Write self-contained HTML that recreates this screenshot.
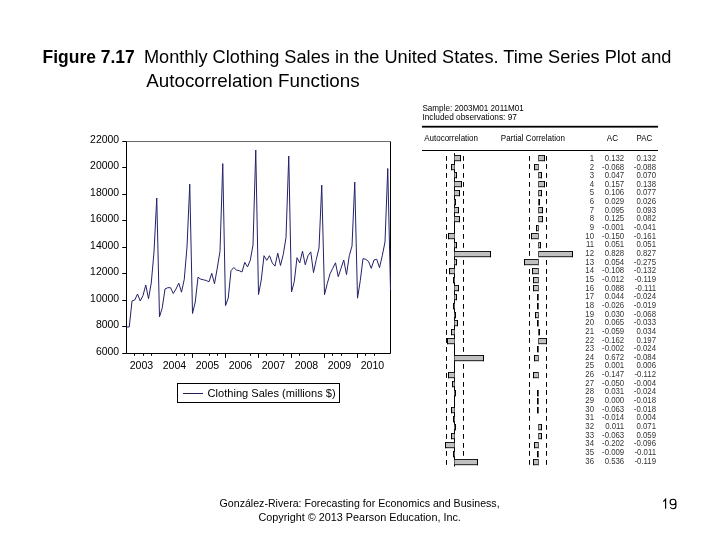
<!DOCTYPE html>
<html><head><meta charset="utf-8"><title>Figure 7.17</title>
<style>
html,body{margin:0;padding:0;background:#fff;}
body{width:720px;height:540px;overflow:hidden;}
svg{display:block;will-change:transform;font-family:"Liberation Sans", sans-serif;}
</style></head>
<body>
<svg width="720" height="540" viewBox="0 0 720 540">
<rect width="720" height="540" fill="#fff"/>
<text x="42.6" y="62.5" font-size="18.2" text-anchor="start" fill="#000" font-weight="bold" textLength="92.2" lengthAdjust="spacingAndGlyphs">Figure 7.17</text>
<text x="143.9" y="62.5" font-size="18.2" text-anchor="start" fill="#000" textLength="527.5" lengthAdjust="spacingAndGlyphs">Monthly Clothing Sales in the United States. Time Series Plot and</text>
<text x="146.2" y="86.6" font-size="18.2" text-anchor="start" fill="#000" textLength="213.5" lengthAdjust="spacingAndGlyphs">Autocorrelation Functions</text>
<path d="M126.5 141 V353.5 H390.5 V141" fill="none" stroke="#000" stroke-width="1"/>
<line x1="126" y1="141.5" x2="391" y2="141.5" stroke="#6a6a6a" stroke-width="1"/>
<line x1="122.3" y1="141.5" x2="126.5" y2="141.5" stroke="#000" stroke-width="1"/>
<text x="119.1" y="142.8" font-size="10.6" text-anchor="end" fill="#000" textLength="29.0" lengthAdjust="spacingAndGlyphs">22000</text>
<line x1="122.3" y1="167.5" x2="126.5" y2="167.5" stroke="#000" stroke-width="1"/>
<text x="119.1" y="169.3" font-size="10.6" text-anchor="end" fill="#000" textLength="29.0" lengthAdjust="spacingAndGlyphs">20000</text>
<line x1="122.3" y1="194.5" x2="126.5" y2="194.5" stroke="#000" stroke-width="1"/>
<text x="119.1" y="195.8" font-size="10.6" text-anchor="end" fill="#000" textLength="29.0" lengthAdjust="spacingAndGlyphs">18000</text>
<line x1="122.3" y1="220.5" x2="126.5" y2="220.5" stroke="#000" stroke-width="1"/>
<text x="119.1" y="222.3" font-size="10.6" text-anchor="end" fill="#000" textLength="29.0" lengthAdjust="spacingAndGlyphs">16000</text>
<line x1="122.3" y1="247.5" x2="126.5" y2="247.5" stroke="#000" stroke-width="1"/>
<text x="119.1" y="248.8" font-size="10.6" text-anchor="end" fill="#000" textLength="29.0" lengthAdjust="spacingAndGlyphs">14000</text>
<line x1="122.3" y1="273.5" x2="126.5" y2="273.5" stroke="#000" stroke-width="1"/>
<text x="119.1" y="275.3" font-size="10.6" text-anchor="end" fill="#000" textLength="29.0" lengthAdjust="spacingAndGlyphs">12000</text>
<line x1="122.3" y1="300.5" x2="126.5" y2="300.5" stroke="#000" stroke-width="1"/>
<text x="119.1" y="301.8" font-size="10.6" text-anchor="end" fill="#000" textLength="29.0" lengthAdjust="spacingAndGlyphs">10000</text>
<line x1="122.3" y1="326.5" x2="126.5" y2="326.5" stroke="#000" stroke-width="1"/>
<text x="119.1" y="328.3" font-size="10.6" text-anchor="end" fill="#000" textLength="23.2" lengthAdjust="spacingAndGlyphs">8000</text>
<line x1="122.3" y1="353.5" x2="126.5" y2="353.5" stroke="#000" stroke-width="1"/>
<text x="119.1" y="354.8" font-size="10.6" text-anchor="end" fill="#000" textLength="23.2" lengthAdjust="spacingAndGlyphs">6000</text>
<line x1="134.50" y1="353.5" x2="134.50" y2="355.8" stroke="#000" stroke-width="1"/>
<line x1="143.50" y1="353.5" x2="143.50" y2="355.8" stroke="#000" stroke-width="1"/>
<line x1="151.50" y1="353.5" x2="151.50" y2="355.8" stroke="#000" stroke-width="1"/>
<line x1="176.50" y1="353.5" x2="176.50" y2="355.8" stroke="#000" stroke-width="1"/>
<line x1="184.50" y1="353.5" x2="184.50" y2="355.8" stroke="#000" stroke-width="1"/>
<line x1="192.50" y1="353.5" x2="192.50" y2="357.8" stroke="#000" stroke-width="1"/>
<line x1="209.50" y1="353.5" x2="209.50" y2="355.8" stroke="#000" stroke-width="1"/>
<line x1="217.50" y1="353.5" x2="217.50" y2="355.8" stroke="#000" stroke-width="1"/>
<line x1="225.50" y1="353.5" x2="225.50" y2="357.8" stroke="#000" stroke-width="1"/>
<line x1="250.50" y1="353.5" x2="250.50" y2="355.8" stroke="#000" stroke-width="1"/>
<line x1="258.50" y1="353.5" x2="258.50" y2="357.8" stroke="#000" stroke-width="1"/>
<line x1="266.50" y1="353.5" x2="266.50" y2="355.8" stroke="#000" stroke-width="1"/>
<line x1="283.50" y1="353.5" x2="283.50" y2="355.8" stroke="#000" stroke-width="1"/>
<line x1="291.50" y1="353.5" x2="291.50" y2="357.8" stroke="#000" stroke-width="1"/>
<line x1="299.50" y1="353.5" x2="299.50" y2="355.8" stroke="#000" stroke-width="1"/>
<line x1="324.50" y1="353.5" x2="324.50" y2="357.8" stroke="#000" stroke-width="1"/>
<line x1="332.50" y1="353.5" x2="332.50" y2="355.8" stroke="#000" stroke-width="1"/>
<line x1="341.50" y1="353.5" x2="341.50" y2="355.8" stroke="#000" stroke-width="1"/>
<line x1="357.50" y1="353.5" x2="357.50" y2="357.8" stroke="#000" stroke-width="1"/>
<line x1="365.50" y1="353.5" x2="365.50" y2="355.8" stroke="#000" stroke-width="1"/>
<line x1="374.50" y1="353.5" x2="374.50" y2="355.8" stroke="#000" stroke-width="1"/>
<text x="141.5" y="368.8" font-size="10.6" text-anchor="middle" fill="#000" textLength="23.5" lengthAdjust="spacingAndGlyphs">2003</text>
<text x="174.5" y="368.8" font-size="10.6" text-anchor="middle" fill="#000" textLength="23.5" lengthAdjust="spacingAndGlyphs">2004</text>
<text x="207.5" y="368.8" font-size="10.6" text-anchor="middle" fill="#000" textLength="23.5" lengthAdjust="spacingAndGlyphs">2005</text>
<text x="240.5" y="368.8" font-size="10.6" text-anchor="middle" fill="#000" textLength="23.5" lengthAdjust="spacingAndGlyphs">2006</text>
<text x="273.5" y="368.8" font-size="10.6" text-anchor="middle" fill="#000" textLength="23.5" lengthAdjust="spacingAndGlyphs">2007</text>
<text x="306.5" y="368.8" font-size="10.6" text-anchor="middle" fill="#000" textLength="23.5" lengthAdjust="spacingAndGlyphs">2008</text>
<text x="339.5" y="368.8" font-size="10.6" text-anchor="middle" fill="#000" textLength="23.5" lengthAdjust="spacingAndGlyphs">2009</text>
<text x="372.5" y="368.8" font-size="10.6" text-anchor="middle" fill="#000" textLength="23.5" lengthAdjust="spacingAndGlyphs">2010</text>
<polyline points="126.50,327.0 129.25,327.0 132.00,301.0 134.75,300.0 137.50,294.0 140.25,301.0 143.00,295.5 145.75,285.0 148.50,298.7 151.25,283.0 154.00,252.0 156.75,198.0 159.50,316.9 162.25,307.8 165.00,289.0 167.75,287.7 170.50,287.7 173.25,293.5 176.00,289.0 178.75,283.1 181.50,292.2 184.25,279.3 187.00,247.0 189.75,184.2 192.50,313.5 195.25,302.0 198.00,277.2 200.75,279.2 203.50,279.8 206.25,280.5 209.00,281.8 211.75,273.3 214.50,283.7 217.25,268.1 220.00,251.3 222.75,163.6 225.50,305.7 228.25,298.0 231.00,270.7 233.75,267.5 236.50,270.1 239.25,270.7 242.00,272.0 244.75,262.3 247.50,266.9 250.25,260.4 253.00,245.0 255.75,150.0 258.50,294.6 261.25,280.0 264.00,255.7 266.75,260.3 269.50,255.7 272.25,262.9 275.00,266.1 277.75,253.1 280.50,265.5 283.25,254.4 286.00,237.6 288.75,156.0 291.50,292.0 294.25,281.7 297.00,257.7 299.75,262.9 302.50,251.2 305.25,264.8 308.00,255.7 310.75,251.9 313.50,272.6 316.25,259.6 319.00,248.0 321.75,185.1 324.50,294.7 327.25,283.6 330.00,273.9 332.75,268.3 335.50,262.8 338.25,276.7 341.00,268.3 343.75,260.0 346.50,274.6 349.25,255.8 352.00,246.1 354.75,182.1 357.50,298.2 360.25,280.8 363.00,258.6 365.75,259.3 368.50,261.4 371.25,268.3 374.00,260.0 376.75,259.3 379.50,267.6 382.25,255.8 385.00,241.9 387.75,168.5 390.50,290.0" fill="none" stroke="#23216a" stroke-width="1" stroke-linejoin="miter"/>
<rect x="177.5" y="383.5" width="162" height="19" fill="none" stroke="#000" stroke-width="1"/>
<line x1="183" y1="393.5" x2="203" y2="393.5" stroke="#201e58" stroke-width="1"/>
<text x="207.6" y="397" font-size="11.6" text-anchor="start" fill="#000" textLength="128" lengthAdjust="spacingAndGlyphs">Clothing Sales (millions $)</text>
<text x="422.4" y="110.8" font-size="8.5" text-anchor="start" fill="#000" textLength="101.5" lengthAdjust="spacingAndGlyphs">Sample: 2003M01 2011M01</text>
<text x="422.4" y="119.7" font-size="8.5" text-anchor="start" fill="#000" textLength="94.5" lengthAdjust="spacingAndGlyphs">Included observations: 97</text>
<rect x="422" y="125.8" width="236" height="1.8" fill="#000"/>
<text x="424.2" y="140.9" font-size="8.7" text-anchor="start" fill="#000" textLength="53.8" lengthAdjust="spacingAndGlyphs">Autocorrelation</text>
<text x="500.8" y="140.9" font-size="8.7" text-anchor="start" fill="#000" textLength="64.2" lengthAdjust="spacingAndGlyphs">Partial Correlation</text>
<text x="606.8" y="140.9" font-size="8.7" text-anchor="start" fill="#000" textLength="11.2" lengthAdjust="spacingAndGlyphs">AC</text>
<text x="636.6" y="140.9" font-size="8.7" text-anchor="start" fill="#000" textLength="15.6" lengthAdjust="spacingAndGlyphs">PAC</text>
<rect x="422" y="150" width="236" height="1" fill="#000"/>
<line x1="454.5" y1="153.2" x2="454.5" y2="466.5" stroke="#000" stroke-width="1"/>
<line x1="446.5" y1="156" x2="446.5" y2="160.8" stroke="#000" stroke-width="1"/>
<line x1="463.5" y1="156" x2="463.5" y2="160.8" stroke="#000" stroke-width="1"/>
<line x1="529.5" y1="156" x2="529.5" y2="160.8" stroke="#000" stroke-width="1"/>
<line x1="546.5" y1="156" x2="546.5" y2="160.8" stroke="#000" stroke-width="1"/>
<rect x="454.5" y="155.5" width="6.0" height="5.2" fill="#c0c0c0"/>
<path d="M454.0 155.5 H461.0 M454.0 160.7 H461.0" stroke="#1a1a1a" stroke-width="1"/>
<line x1="460.5" y1="155.0" x2="460.5" y2="161.2" stroke="#000" stroke-width="1"/>
<rect x="538.5" y="155.5" width="6.0" height="5.2" fill="#c0c0c0"/>
<path d="M538.0 155.5 H545.0 M538.0 160.7 H545.0" stroke="#1a1a1a" stroke-width="1"/>
<line x1="544.5" y1="155.0" x2="544.5" y2="161.2" stroke="#000" stroke-width="1"/>
<line x1="538.5" y1="155.0" x2="538.5" y2="161.2" stroke="#555" stroke-width="1"/>
<text transform="translate(594,160.8) scale(0.93,1)" font-size="8.4" text-anchor="end" fill="#333">1</text>
<text transform="translate(624.2,160.8) scale(0.93,1)" font-size="8.4" text-anchor="end" fill="#333">0.132</text>
<text transform="translate(656,160.8) scale(0.93,1)" font-size="8.4" text-anchor="end" fill="#333">0.132</text>
<line x1="446.5" y1="164" x2="446.5" y2="168.8" stroke="#000" stroke-width="1"/>
<line x1="463.5" y1="164" x2="463.5" y2="168.8" stroke="#000" stroke-width="1"/>
<line x1="529.5" y1="164" x2="529.5" y2="168.8" stroke="#000" stroke-width="1"/>
<line x1="546.5" y1="164" x2="546.5" y2="168.8" stroke="#000" stroke-width="1"/>
<rect x="451.5" y="164.5" width="3.0" height="5.2" fill="#c0c0c0"/>
<path d="M451.0 164.5 H455.0 M451.0 169.7 H455.0" stroke="#1a1a1a" stroke-width="1"/>
<line x1="451.5" y1="164.0" x2="451.5" y2="170.2" stroke="#000" stroke-width="1"/>
<rect x="534.5" y="164.5" width="4.0" height="5.2" fill="#c0c0c0"/>
<path d="M534.0 164.5 H539.0 M534.0 169.7 H539.0" stroke="#1a1a1a" stroke-width="1"/>
<line x1="534.5" y1="164.0" x2="534.5" y2="170.2" stroke="#000" stroke-width="1"/>
<line x1="538.5" y1="164.0" x2="538.5" y2="170.2" stroke="#555" stroke-width="1"/>
<text transform="translate(594,169.5) scale(0.93,1)" font-size="8.4" text-anchor="end" fill="#333">2</text>
<text transform="translate(624.2,169.5) scale(0.93,1)" font-size="8.4" text-anchor="end" fill="#333">-0.068</text>
<text transform="translate(656,169.5) scale(0.93,1)" font-size="8.4" text-anchor="end" fill="#333">-0.088</text>
<line x1="446.5" y1="173" x2="446.5" y2="177.8" stroke="#000" stroke-width="1"/>
<line x1="463.5" y1="173" x2="463.5" y2="177.8" stroke="#000" stroke-width="1"/>
<line x1="529.5" y1="173" x2="529.5" y2="177.8" stroke="#000" stroke-width="1"/>
<line x1="546.5" y1="173" x2="546.5" y2="177.8" stroke="#000" stroke-width="1"/>
<rect x="454.5" y="172.5" width="2.0" height="5.2" fill="#c0c0c0"/>
<path d="M454.0 172.5 H457.0 M454.0 177.7 H457.0" stroke="#1a1a1a" stroke-width="1"/>
<line x1="456.5" y1="172.0" x2="456.5" y2="178.2" stroke="#000" stroke-width="1"/>
<rect x="538.5" y="172.5" width="3.0" height="5.2" fill="#c0c0c0"/>
<path d="M538.0 172.5 H542.0 M538.0 177.7 H542.0" stroke="#1a1a1a" stroke-width="1"/>
<line x1="541.5" y1="172.0" x2="541.5" y2="178.2" stroke="#000" stroke-width="1"/>
<line x1="538.5" y1="172.0" x2="538.5" y2="178.2" stroke="#555" stroke-width="1"/>
<text transform="translate(594,178.1) scale(0.93,1)" font-size="8.4" text-anchor="end" fill="#333">3</text>
<text transform="translate(624.2,178.1) scale(0.93,1)" font-size="8.4" text-anchor="end" fill="#333">0.047</text>
<text transform="translate(656,178.1) scale(0.93,1)" font-size="8.4" text-anchor="end" fill="#333">0.070</text>
<line x1="446.5" y1="182" x2="446.5" y2="186.8" stroke="#000" stroke-width="1"/>
<line x1="463.5" y1="182" x2="463.5" y2="186.8" stroke="#000" stroke-width="1"/>
<line x1="529.5" y1="182" x2="529.5" y2="186.8" stroke="#000" stroke-width="1"/>
<line x1="546.5" y1="182" x2="546.5" y2="186.8" stroke="#000" stroke-width="1"/>
<rect x="454.5" y="181.5" width="7.0" height="5.2" fill="#c0c0c0"/>
<path d="M454.0 181.5 H462.0 M454.0 186.7 H462.0" stroke="#1a1a1a" stroke-width="1"/>
<line x1="461.5" y1="181.0" x2="461.5" y2="187.2" stroke="#000" stroke-width="1"/>
<rect x="538.5" y="181.5" width="6.0" height="5.2" fill="#c0c0c0"/>
<path d="M538.0 181.5 H545.0 M538.0 186.7 H545.0" stroke="#1a1a1a" stroke-width="1"/>
<line x1="544.5" y1="181.0" x2="544.5" y2="187.2" stroke="#000" stroke-width="1"/>
<line x1="538.5" y1="181.0" x2="538.5" y2="187.2" stroke="#555" stroke-width="1"/>
<text transform="translate(594,186.8) scale(0.93,1)" font-size="8.4" text-anchor="end" fill="#333">4</text>
<text transform="translate(624.2,186.8) scale(0.93,1)" font-size="8.4" text-anchor="end" fill="#333">0.157</text>
<text transform="translate(656,186.8) scale(0.93,1)" font-size="8.4" text-anchor="end" fill="#333">0.138</text>
<line x1="446.5" y1="191" x2="446.5" y2="195.8" stroke="#000" stroke-width="1"/>
<line x1="463.5" y1="191" x2="463.5" y2="195.8" stroke="#000" stroke-width="1"/>
<line x1="529.5" y1="191" x2="529.5" y2="195.8" stroke="#000" stroke-width="1"/>
<line x1="546.5" y1="191" x2="546.5" y2="195.8" stroke="#000" stroke-width="1"/>
<rect x="454.5" y="190.5" width="5.0" height="5.2" fill="#c0c0c0"/>
<path d="M454.0 190.5 H460.0 M454.0 195.7 H460.0" stroke="#1a1a1a" stroke-width="1"/>
<line x1="459.5" y1="190.0" x2="459.5" y2="196.2" stroke="#000" stroke-width="1"/>
<rect x="538.5" y="190.5" width="3.0" height="5.2" fill="#c0c0c0"/>
<path d="M538.0 190.5 H542.0 M538.0 195.7 H542.0" stroke="#1a1a1a" stroke-width="1"/>
<line x1="541.5" y1="190.0" x2="541.5" y2="196.2" stroke="#000" stroke-width="1"/>
<line x1="538.5" y1="190.0" x2="538.5" y2="196.2" stroke="#555" stroke-width="1"/>
<text transform="translate(594,195.4) scale(0.93,1)" font-size="8.4" text-anchor="end" fill="#333">5</text>
<text transform="translate(624.2,195.4) scale(0.93,1)" font-size="8.4" text-anchor="end" fill="#333">0.106</text>
<text transform="translate(656,195.4) scale(0.93,1)" font-size="8.4" text-anchor="end" fill="#333">0.077</text>
<line x1="446.5" y1="199" x2="446.5" y2="203.8" stroke="#000" stroke-width="1"/>
<line x1="463.5" y1="199" x2="463.5" y2="203.8" stroke="#000" stroke-width="1"/>
<line x1="529.5" y1="199" x2="529.5" y2="203.8" stroke="#000" stroke-width="1"/>
<line x1="546.5" y1="199" x2="546.5" y2="203.8" stroke="#000" stroke-width="1"/>
<rect x="454.5" y="199.5" width="1.0" height="5.2" fill="#c0c0c0"/>
<path d="M454.0 199.5 H456.0 M454.0 204.7 H456.0" stroke="#1a1a1a" stroke-width="1"/>
<line x1="455.5" y1="199.0" x2="455.5" y2="205.2" stroke="#000" stroke-width="1"/>
<rect x="538.5" y="199.5" width="1.0" height="5.2" fill="#c0c0c0"/>
<path d="M538.0 199.5 H540.0 M538.0 204.7 H540.0" stroke="#1a1a1a" stroke-width="1"/>
<line x1="539.5" y1="199.0" x2="539.5" y2="205.2" stroke="#000" stroke-width="1"/>
<line x1="538.5" y1="199.0" x2="538.5" y2="205.2" stroke="#555" stroke-width="1"/>
<text transform="translate(594,204.1) scale(0.93,1)" font-size="8.4" text-anchor="end" fill="#333">6</text>
<text transform="translate(624.2,204.1) scale(0.93,1)" font-size="8.4" text-anchor="end" fill="#333">0.029</text>
<text transform="translate(656,204.1) scale(0.93,1)" font-size="8.4" text-anchor="end" fill="#333">0.026</text>
<line x1="446.5" y1="208" x2="446.5" y2="212.8" stroke="#000" stroke-width="1"/>
<line x1="463.5" y1="208" x2="463.5" y2="212.8" stroke="#000" stroke-width="1"/>
<line x1="529.5" y1="208" x2="529.5" y2="212.8" stroke="#000" stroke-width="1"/>
<line x1="546.5" y1="208" x2="546.5" y2="212.8" stroke="#000" stroke-width="1"/>
<rect x="454.5" y="207.5" width="4.0" height="5.2" fill="#c0c0c0"/>
<path d="M454.0 207.5 H459.0 M454.0 212.7 H459.0" stroke="#1a1a1a" stroke-width="1"/>
<line x1="458.5" y1="207.0" x2="458.5" y2="213.2" stroke="#000" stroke-width="1"/>
<rect x="538.5" y="207.5" width="4.0" height="5.2" fill="#c0c0c0"/>
<path d="M538.0 207.5 H543.0 M538.0 212.7 H543.0" stroke="#1a1a1a" stroke-width="1"/>
<line x1="542.5" y1="207.0" x2="542.5" y2="213.2" stroke="#000" stroke-width="1"/>
<line x1="538.5" y1="207.0" x2="538.5" y2="213.2" stroke="#555" stroke-width="1"/>
<text transform="translate(594,212.7) scale(0.93,1)" font-size="8.4" text-anchor="end" fill="#333">7</text>
<text transform="translate(624.2,212.7) scale(0.93,1)" font-size="8.4" text-anchor="end" fill="#333">0.095</text>
<text transform="translate(656,212.7) scale(0.93,1)" font-size="8.4" text-anchor="end" fill="#333">0.093</text>
<line x1="446.5" y1="217" x2="446.5" y2="221.8" stroke="#000" stroke-width="1"/>
<line x1="463.5" y1="217" x2="463.5" y2="221.8" stroke="#000" stroke-width="1"/>
<line x1="529.5" y1="217" x2="529.5" y2="221.8" stroke="#000" stroke-width="1"/>
<line x1="546.5" y1="217" x2="546.5" y2="221.8" stroke="#000" stroke-width="1"/>
<rect x="454.5" y="216.5" width="5.0" height="5.2" fill="#c0c0c0"/>
<path d="M454.0 216.5 H460.0 M454.0 221.7 H460.0" stroke="#1a1a1a" stroke-width="1"/>
<line x1="459.5" y1="216.0" x2="459.5" y2="222.2" stroke="#000" stroke-width="1"/>
<rect x="538.5" y="216.5" width="4.0" height="5.2" fill="#c0c0c0"/>
<path d="M538.0 216.5 H543.0 M538.0 221.7 H543.0" stroke="#1a1a1a" stroke-width="1"/>
<line x1="542.5" y1="216.0" x2="542.5" y2="222.2" stroke="#000" stroke-width="1"/>
<line x1="538.5" y1="216.0" x2="538.5" y2="222.2" stroke="#555" stroke-width="1"/>
<text transform="translate(594,221.4) scale(0.93,1)" font-size="8.4" text-anchor="end" fill="#333">8</text>
<text transform="translate(624.2,221.4) scale(0.93,1)" font-size="8.4" text-anchor="end" fill="#333">0.125</text>
<text transform="translate(656,221.4) scale(0.93,1)" font-size="8.4" text-anchor="end" fill="#333">0.082</text>
<line x1="446.5" y1="225" x2="446.5" y2="229.8" stroke="#000" stroke-width="1"/>
<line x1="463.5" y1="225" x2="463.5" y2="229.8" stroke="#000" stroke-width="1"/>
<line x1="529.5" y1="225" x2="529.5" y2="229.8" stroke="#000" stroke-width="1"/>
<line x1="546.5" y1="225" x2="546.5" y2="229.8" stroke="#000" stroke-width="1"/>
<rect x="536.5" y="225.5" width="2.0" height="5.2" fill="#c0c0c0"/>
<path d="M536.0 225.5 H539.0 M536.0 230.7 H539.0" stroke="#1a1a1a" stroke-width="1"/>
<line x1="536.5" y1="225.0" x2="536.5" y2="231.2" stroke="#000" stroke-width="1"/>
<line x1="538.5" y1="225.0" x2="538.5" y2="231.2" stroke="#555" stroke-width="1"/>
<text transform="translate(594,230.0) scale(0.93,1)" font-size="8.4" text-anchor="end" fill="#333">9</text>
<text transform="translate(624.2,230.0) scale(0.93,1)" font-size="8.4" text-anchor="end" fill="#333">-0.001</text>
<text transform="translate(656,230.0) scale(0.93,1)" font-size="8.4" text-anchor="end" fill="#333">-0.041</text>
<line x1="446.5" y1="234" x2="446.5" y2="238.8" stroke="#000" stroke-width="1"/>
<line x1="463.5" y1="234" x2="463.5" y2="238.8" stroke="#000" stroke-width="1"/>
<line x1="529.5" y1="234" x2="529.5" y2="238.8" stroke="#000" stroke-width="1"/>
<line x1="546.5" y1="234" x2="546.5" y2="238.8" stroke="#000" stroke-width="1"/>
<rect x="448.5" y="233.5" width="6.0" height="5.2" fill="#c0c0c0"/>
<path d="M448.0 233.5 H455.0 M448.0 238.7 H455.0" stroke="#1a1a1a" stroke-width="1"/>
<line x1="448.5" y1="233.0" x2="448.5" y2="239.2" stroke="#000" stroke-width="1"/>
<rect x="531.5" y="233.5" width="7.0" height="5.2" fill="#c0c0c0"/>
<path d="M531.0 233.5 H539.0 M531.0 238.7 H539.0" stroke="#1a1a1a" stroke-width="1"/>
<line x1="531.5" y1="233.0" x2="531.5" y2="239.2" stroke="#000" stroke-width="1"/>
<line x1="538.5" y1="233.0" x2="538.5" y2="239.2" stroke="#555" stroke-width="1"/>
<text transform="translate(594,238.7) scale(0.93,1)" font-size="8.4" text-anchor="end" fill="#333">10</text>
<text transform="translate(624.2,238.7) scale(0.93,1)" font-size="8.4" text-anchor="end" fill="#333">-0.150</text>
<text transform="translate(656,238.7) scale(0.93,1)" font-size="8.4" text-anchor="end" fill="#333">-0.161</text>
<line x1="446.5" y1="243" x2="446.5" y2="247.8" stroke="#000" stroke-width="1"/>
<line x1="463.5" y1="243" x2="463.5" y2="247.8" stroke="#000" stroke-width="1"/>
<line x1="529.5" y1="243" x2="529.5" y2="247.8" stroke="#000" stroke-width="1"/>
<line x1="546.5" y1="243" x2="546.5" y2="247.8" stroke="#000" stroke-width="1"/>
<rect x="454.5" y="242.5" width="2.0" height="5.2" fill="#c0c0c0"/>
<path d="M454.0 242.5 H457.0 M454.0 247.7 H457.0" stroke="#1a1a1a" stroke-width="1"/>
<line x1="456.5" y1="242.0" x2="456.5" y2="248.2" stroke="#000" stroke-width="1"/>
<rect x="538.5" y="242.5" width="2.0" height="5.2" fill="#c0c0c0"/>
<path d="M538.0 242.5 H541.0 M538.0 247.7 H541.0" stroke="#1a1a1a" stroke-width="1"/>
<line x1="540.5" y1="242.0" x2="540.5" y2="248.2" stroke="#000" stroke-width="1"/>
<line x1="538.5" y1="242.0" x2="538.5" y2="248.2" stroke="#555" stroke-width="1"/>
<text transform="translate(594,247.3) scale(0.93,1)" font-size="8.4" text-anchor="end" fill="#333">11</text>
<text transform="translate(624.2,247.3) scale(0.93,1)" font-size="8.4" text-anchor="end" fill="#333">0.051</text>
<text transform="translate(656,247.3) scale(0.93,1)" font-size="8.4" text-anchor="end" fill="#333">0.051</text>
<line x1="446.5" y1="251" x2="446.5" y2="255.8" stroke="#000" stroke-width="1"/>
<line x1="463.5" y1="251" x2="463.5" y2="255.8" stroke="#000" stroke-width="1"/>
<line x1="529.5" y1="251" x2="529.5" y2="255.8" stroke="#000" stroke-width="1"/>
<line x1="546.5" y1="251" x2="546.5" y2="255.8" stroke="#000" stroke-width="1"/>
<rect x="454.5" y="251.5" width="36.0" height="5.2" fill="#c0c0c0"/>
<path d="M454.0 251.5 H491.0 M454.0 256.7 H491.0" stroke="#1a1a1a" stroke-width="1"/>
<line x1="490.5" y1="251.0" x2="490.5" y2="257.2" stroke="#000" stroke-width="1"/>
<rect x="538.5" y="251.5" width="34.0" height="5.2" fill="#c0c0c0"/>
<path d="M538.0 251.5 H573.0 M538.0 256.7 H573.0" stroke="#1a1a1a" stroke-width="1"/>
<line x1="572.5" y1="251.0" x2="572.5" y2="257.2" stroke="#000" stroke-width="1"/>
<line x1="538.5" y1="251.0" x2="538.5" y2="257.2" stroke="#555" stroke-width="1"/>
<text transform="translate(594,256.0) scale(0.93,1)" font-size="8.4" text-anchor="end" fill="#333">12</text>
<text transform="translate(624.2,256.0) scale(0.93,1)" font-size="8.4" text-anchor="end" fill="#333">0.828</text>
<text transform="translate(656,256.0) scale(0.93,1)" font-size="8.4" text-anchor="end" fill="#333">0.827</text>
<line x1="446.5" y1="260" x2="446.5" y2="264.8" stroke="#000" stroke-width="1"/>
<line x1="463.5" y1="260" x2="463.5" y2="264.8" stroke="#000" stroke-width="1"/>
<line x1="529.5" y1="260" x2="529.5" y2="264.8" stroke="#000" stroke-width="1"/>
<line x1="546.5" y1="260" x2="546.5" y2="264.8" stroke="#000" stroke-width="1"/>
<rect x="454.5" y="259.5" width="2.0" height="5.2" fill="#c0c0c0"/>
<path d="M454.0 259.5 H457.0 M454.0 264.7 H457.0" stroke="#1a1a1a" stroke-width="1"/>
<line x1="456.5" y1="259.0" x2="456.5" y2="265.2" stroke="#000" stroke-width="1"/>
<rect x="524.5" y="259.5" width="14.0" height="5.2" fill="#c0c0c0"/>
<path d="M524.0 259.5 H539.0 M524.0 264.7 H539.0" stroke="#1a1a1a" stroke-width="1"/>
<line x1="524.5" y1="259.0" x2="524.5" y2="265.2" stroke="#000" stroke-width="1"/>
<line x1="538.5" y1="259.0" x2="538.5" y2="265.2" stroke="#555" stroke-width="1"/>
<text transform="translate(594,264.6) scale(0.93,1)" font-size="8.4" text-anchor="end" fill="#333">13</text>
<text transform="translate(624.2,264.6) scale(0.93,1)" font-size="8.4" text-anchor="end" fill="#333">0.054</text>
<text transform="translate(656,264.6) scale(0.93,1)" font-size="8.4" text-anchor="end" fill="#333">-0.275</text>
<line x1="446.5" y1="269" x2="446.5" y2="273.8" stroke="#000" stroke-width="1"/>
<line x1="463.5" y1="269" x2="463.5" y2="273.8" stroke="#000" stroke-width="1"/>
<line x1="529.5" y1="269" x2="529.5" y2="273.8" stroke="#000" stroke-width="1"/>
<line x1="546.5" y1="269" x2="546.5" y2="273.8" stroke="#000" stroke-width="1"/>
<rect x="449.5" y="268.5" width="5.0" height="5.2" fill="#c0c0c0"/>
<path d="M449.0 268.5 H455.0 M449.0 273.7 H455.0" stroke="#1a1a1a" stroke-width="1"/>
<line x1="449.5" y1="268.0" x2="449.5" y2="274.2" stroke="#000" stroke-width="1"/>
<rect x="532.5" y="268.5" width="6.0" height="5.2" fill="#c0c0c0"/>
<path d="M532.0 268.5 H539.0 M532.0 273.7 H539.0" stroke="#1a1a1a" stroke-width="1"/>
<line x1="532.5" y1="268.0" x2="532.5" y2="274.2" stroke="#000" stroke-width="1"/>
<line x1="538.5" y1="268.0" x2="538.5" y2="274.2" stroke="#555" stroke-width="1"/>
<text transform="translate(594,273.2) scale(0.93,1)" font-size="8.4" text-anchor="end" fill="#333">14</text>
<text transform="translate(624.2,273.2) scale(0.93,1)" font-size="8.4" text-anchor="end" fill="#333">-0.108</text>
<text transform="translate(656,273.2) scale(0.93,1)" font-size="8.4" text-anchor="end" fill="#333">-0.132</text>
<line x1="446.5" y1="277" x2="446.5" y2="281.8" stroke="#000" stroke-width="1"/>
<line x1="463.5" y1="277" x2="463.5" y2="281.8" stroke="#000" stroke-width="1"/>
<line x1="529.5" y1="277" x2="529.5" y2="281.8" stroke="#000" stroke-width="1"/>
<line x1="546.5" y1="277" x2="546.5" y2="281.8" stroke="#000" stroke-width="1"/>
<rect x="453.5" y="277.5" width="1.0" height="5.2" fill="#c0c0c0"/>
<path d="M453.0 277.5 H455.0 M453.0 282.7 H455.0" stroke="#1a1a1a" stroke-width="1"/>
<line x1="453.5" y1="277.0" x2="453.5" y2="283.2" stroke="#000" stroke-width="1"/>
<rect x="533.5" y="277.5" width="5.0" height="5.2" fill="#c0c0c0"/>
<path d="M533.0 277.5 H539.0 M533.0 282.7 H539.0" stroke="#1a1a1a" stroke-width="1"/>
<line x1="533.5" y1="277.0" x2="533.5" y2="283.2" stroke="#000" stroke-width="1"/>
<line x1="538.5" y1="277.0" x2="538.5" y2="283.2" stroke="#555" stroke-width="1"/>
<text transform="translate(594,281.9) scale(0.93,1)" font-size="8.4" text-anchor="end" fill="#333">15</text>
<text transform="translate(624.2,281.9) scale(0.93,1)" font-size="8.4" text-anchor="end" fill="#333">-0.012</text>
<text transform="translate(656,281.9) scale(0.93,1)" font-size="8.4" text-anchor="end" fill="#333">-0.119</text>
<line x1="446.5" y1="286" x2="446.5" y2="290.8" stroke="#000" stroke-width="1"/>
<line x1="463.5" y1="286" x2="463.5" y2="290.8" stroke="#000" stroke-width="1"/>
<line x1="529.5" y1="286" x2="529.5" y2="290.8" stroke="#000" stroke-width="1"/>
<line x1="546.5" y1="286" x2="546.5" y2="290.8" stroke="#000" stroke-width="1"/>
<rect x="454.5" y="285.5" width="4.0" height="5.2" fill="#c0c0c0"/>
<path d="M454.0 285.5 H459.0 M454.0 290.7 H459.0" stroke="#1a1a1a" stroke-width="1"/>
<line x1="458.5" y1="285.0" x2="458.5" y2="291.2" stroke="#000" stroke-width="1"/>
<rect x="533.5" y="285.5" width="5.0" height="5.2" fill="#c0c0c0"/>
<path d="M533.0 285.5 H539.0 M533.0 290.7 H539.0" stroke="#1a1a1a" stroke-width="1"/>
<line x1="533.5" y1="285.0" x2="533.5" y2="291.2" stroke="#000" stroke-width="1"/>
<line x1="538.5" y1="285.0" x2="538.5" y2="291.2" stroke="#555" stroke-width="1"/>
<text transform="translate(594,290.6) scale(0.93,1)" font-size="8.4" text-anchor="end" fill="#333">16</text>
<text transform="translate(624.2,290.6) scale(0.93,1)" font-size="8.4" text-anchor="end" fill="#333">0.088</text>
<text transform="translate(656,290.6) scale(0.93,1)" font-size="8.4" text-anchor="end" fill="#333">-0.111</text>
<line x1="446.5" y1="295" x2="446.5" y2="299.8" stroke="#000" stroke-width="1"/>
<line x1="463.5" y1="295" x2="463.5" y2="299.8" stroke="#000" stroke-width="1"/>
<line x1="529.5" y1="295" x2="529.5" y2="299.8" stroke="#000" stroke-width="1"/>
<line x1="546.5" y1="295" x2="546.5" y2="299.8" stroke="#000" stroke-width="1"/>
<rect x="454.5" y="294.5" width="2.0" height="5.2" fill="#c0c0c0"/>
<path d="M454.0 294.5 H457.0 M454.0 299.7 H457.0" stroke="#1a1a1a" stroke-width="1"/>
<line x1="456.5" y1="294.0" x2="456.5" y2="300.2" stroke="#000" stroke-width="1"/>
<rect x="537.5" y="294.5" width="1.0" height="5.2" fill="#c0c0c0"/>
<path d="M537.0 294.5 H539.0 M537.0 299.7 H539.0" stroke="#1a1a1a" stroke-width="1"/>
<line x1="537.5" y1="294.0" x2="537.5" y2="300.2" stroke="#000" stroke-width="1"/>
<line x1="538.5" y1="294.0" x2="538.5" y2="300.2" stroke="#555" stroke-width="1"/>
<text transform="translate(594,299.2) scale(0.93,1)" font-size="8.4" text-anchor="end" fill="#333">17</text>
<text transform="translate(624.2,299.2) scale(0.93,1)" font-size="8.4" text-anchor="end" fill="#333">0.044</text>
<text transform="translate(656,299.2) scale(0.93,1)" font-size="8.4" text-anchor="end" fill="#333">-0.024</text>
<line x1="446.5" y1="304" x2="446.5" y2="308.8" stroke="#000" stroke-width="1"/>
<line x1="463.5" y1="304" x2="463.5" y2="308.8" stroke="#000" stroke-width="1"/>
<line x1="529.5" y1="304" x2="529.5" y2="308.8" stroke="#000" stroke-width="1"/>
<line x1="546.5" y1="304" x2="546.5" y2="308.8" stroke="#000" stroke-width="1"/>
<rect x="453.5" y="303.5" width="1.0" height="5.2" fill="#c0c0c0"/>
<path d="M453.0 303.5 H455.0 M453.0 308.7 H455.0" stroke="#1a1a1a" stroke-width="1"/>
<line x1="453.5" y1="303.0" x2="453.5" y2="309.2" stroke="#000" stroke-width="1"/>
<rect x="537.5" y="303.5" width="1.0" height="5.2" fill="#c0c0c0"/>
<path d="M537.0 303.5 H539.0 M537.0 308.7 H539.0" stroke="#1a1a1a" stroke-width="1"/>
<line x1="537.5" y1="303.0" x2="537.5" y2="309.2" stroke="#000" stroke-width="1"/>
<line x1="538.5" y1="303.0" x2="538.5" y2="309.2" stroke="#555" stroke-width="1"/>
<text transform="translate(594,307.9) scale(0.93,1)" font-size="8.4" text-anchor="end" fill="#333">18</text>
<text transform="translate(624.2,307.9) scale(0.93,1)" font-size="8.4" text-anchor="end" fill="#333">-0.026</text>
<text transform="translate(656,307.9) scale(0.93,1)" font-size="8.4" text-anchor="end" fill="#333">-0.019</text>
<line x1="446.5" y1="312" x2="446.5" y2="316.8" stroke="#000" stroke-width="1"/>
<line x1="463.5" y1="312" x2="463.5" y2="316.8" stroke="#000" stroke-width="1"/>
<line x1="529.5" y1="312" x2="529.5" y2="316.8" stroke="#000" stroke-width="1"/>
<line x1="546.5" y1="312" x2="546.5" y2="316.8" stroke="#000" stroke-width="1"/>
<rect x="454.5" y="312.5" width="1.0" height="5.2" fill="#c0c0c0"/>
<path d="M454.0 312.5 H456.0 M454.0 317.7 H456.0" stroke="#1a1a1a" stroke-width="1"/>
<line x1="455.5" y1="312.0" x2="455.5" y2="318.2" stroke="#000" stroke-width="1"/>
<rect x="535.5" y="312.5" width="3.0" height="5.2" fill="#c0c0c0"/>
<path d="M535.0 312.5 H539.0 M535.0 317.7 H539.0" stroke="#1a1a1a" stroke-width="1"/>
<line x1="535.5" y1="312.0" x2="535.5" y2="318.2" stroke="#000" stroke-width="1"/>
<line x1="538.5" y1="312.0" x2="538.5" y2="318.2" stroke="#555" stroke-width="1"/>
<text transform="translate(594,316.5) scale(0.93,1)" font-size="8.4" text-anchor="end" fill="#333">19</text>
<text transform="translate(624.2,316.5) scale(0.93,1)" font-size="8.4" text-anchor="end" fill="#333">0.030</text>
<text transform="translate(656,316.5) scale(0.93,1)" font-size="8.4" text-anchor="end" fill="#333">-0.068</text>
<line x1="446.5" y1="321" x2="446.5" y2="325.8" stroke="#000" stroke-width="1"/>
<line x1="463.5" y1="321" x2="463.5" y2="325.8" stroke="#000" stroke-width="1"/>
<line x1="529.5" y1="321" x2="529.5" y2="325.8" stroke="#000" stroke-width="1"/>
<line x1="546.5" y1="321" x2="546.5" y2="325.8" stroke="#000" stroke-width="1"/>
<rect x="454.5" y="320.5" width="3.0" height="5.2" fill="#c0c0c0"/>
<path d="M454.0 320.5 H458.0 M454.0 325.7 H458.0" stroke="#1a1a1a" stroke-width="1"/>
<line x1="457.5" y1="320.0" x2="457.5" y2="326.2" stroke="#000" stroke-width="1"/>
<rect x="537.5" y="320.5" width="1.0" height="5.2" fill="#c0c0c0"/>
<path d="M537.0 320.5 H539.0 M537.0 325.7 H539.0" stroke="#1a1a1a" stroke-width="1"/>
<line x1="537.5" y1="320.0" x2="537.5" y2="326.2" stroke="#000" stroke-width="1"/>
<line x1="538.5" y1="320.0" x2="538.5" y2="326.2" stroke="#555" stroke-width="1"/>
<text transform="translate(594,325.1) scale(0.93,1)" font-size="8.4" text-anchor="end" fill="#333">20</text>
<text transform="translate(624.2,325.1) scale(0.93,1)" font-size="8.4" text-anchor="end" fill="#333">0.065</text>
<text transform="translate(656,325.1) scale(0.93,1)" font-size="8.4" text-anchor="end" fill="#333">-0.033</text>
<line x1="446.5" y1="330" x2="446.5" y2="334.8" stroke="#000" stroke-width="1"/>
<line x1="463.5" y1="330" x2="463.5" y2="334.8" stroke="#000" stroke-width="1"/>
<line x1="529.5" y1="330" x2="529.5" y2="334.8" stroke="#000" stroke-width="1"/>
<line x1="546.5" y1="330" x2="546.5" y2="334.8" stroke="#000" stroke-width="1"/>
<rect x="451.5" y="329.5" width="3.0" height="5.2" fill="#c0c0c0"/>
<path d="M451.0 329.5 H455.0 M451.0 334.7 H455.0" stroke="#1a1a1a" stroke-width="1"/>
<line x1="451.5" y1="329.0" x2="451.5" y2="335.2" stroke="#000" stroke-width="1"/>
<rect x="538.5" y="329.5" width="1.0" height="5.2" fill="#c0c0c0"/>
<path d="M538.0 329.5 H540.0 M538.0 334.7 H540.0" stroke="#1a1a1a" stroke-width="1"/>
<line x1="539.5" y1="329.0" x2="539.5" y2="335.2" stroke="#000" stroke-width="1"/>
<line x1="538.5" y1="329.0" x2="538.5" y2="335.2" stroke="#555" stroke-width="1"/>
<text transform="translate(594,333.8) scale(0.93,1)" font-size="8.4" text-anchor="end" fill="#333">21</text>
<text transform="translate(624.2,333.8) scale(0.93,1)" font-size="8.4" text-anchor="end" fill="#333">-0.059</text>
<text transform="translate(656,333.8) scale(0.93,1)" font-size="8.4" text-anchor="end" fill="#333">0.034</text>
<line x1="446.5" y1="338" x2="446.5" y2="342.8" stroke="#000" stroke-width="1"/>
<line x1="463.5" y1="338" x2="463.5" y2="342.8" stroke="#000" stroke-width="1"/>
<line x1="529.5" y1="338" x2="529.5" y2="342.8" stroke="#000" stroke-width="1"/>
<line x1="546.5" y1="338" x2="546.5" y2="342.8" stroke="#000" stroke-width="1"/>
<rect x="447.5" y="338.5" width="7.0" height="5.2" fill="#c0c0c0"/>
<path d="M447.0 338.5 H455.0 M447.0 343.7 H455.0" stroke="#1a1a1a" stroke-width="1"/>
<line x1="447.5" y1="338.0" x2="447.5" y2="344.2" stroke="#000" stroke-width="1"/>
<rect x="538.5" y="338.5" width="8.0" height="5.2" fill="#c0c0c0"/>
<path d="M538.0 338.5 H547.0 M538.0 343.7 H547.0" stroke="#1a1a1a" stroke-width="1"/>
<line x1="546.5" y1="338.0" x2="546.5" y2="344.2" stroke="#000" stroke-width="1"/>
<line x1="538.5" y1="338.0" x2="538.5" y2="344.2" stroke="#555" stroke-width="1"/>
<text transform="translate(594,342.5) scale(0.93,1)" font-size="8.4" text-anchor="end" fill="#333">22</text>
<text transform="translate(624.2,342.5) scale(0.93,1)" font-size="8.4" text-anchor="end" fill="#333">-0.162</text>
<text transform="translate(656,342.5) scale(0.93,1)" font-size="8.4" text-anchor="end" fill="#333">0.197</text>
<line x1="446.5" y1="347" x2="446.5" y2="351.8" stroke="#000" stroke-width="1"/>
<line x1="463.5" y1="347" x2="463.5" y2="351.8" stroke="#000" stroke-width="1"/>
<line x1="529.5" y1="347" x2="529.5" y2="351.8" stroke="#000" stroke-width="1"/>
<line x1="546.5" y1="347" x2="546.5" y2="351.8" stroke="#000" stroke-width="1"/>
<rect x="537.5" y="346.5" width="1.0" height="5.2" fill="#c0c0c0"/>
<path d="M537.0 346.5 H539.0 M537.0 351.7 H539.0" stroke="#1a1a1a" stroke-width="1"/>
<line x1="537.5" y1="346.0" x2="537.5" y2="352.2" stroke="#000" stroke-width="1"/>
<line x1="538.5" y1="346.0" x2="538.5" y2="352.2" stroke="#555" stroke-width="1"/>
<text transform="translate(594,351.1) scale(0.93,1)" font-size="8.4" text-anchor="end" fill="#333">23</text>
<text transform="translate(624.2,351.1) scale(0.93,1)" font-size="8.4" text-anchor="end" fill="#333">-0.002</text>
<text transform="translate(656,351.1) scale(0.93,1)" font-size="8.4" text-anchor="end" fill="#333">-0.024</text>
<line x1="446.5" y1="356" x2="446.5" y2="360.8" stroke="#000" stroke-width="1"/>
<line x1="463.5" y1="356" x2="463.5" y2="360.8" stroke="#000" stroke-width="1"/>
<line x1="529.5" y1="356" x2="529.5" y2="360.8" stroke="#000" stroke-width="1"/>
<line x1="546.5" y1="356" x2="546.5" y2="360.8" stroke="#000" stroke-width="1"/>
<rect x="454.5" y="355.5" width="29.0" height="5.2" fill="#c0c0c0"/>
<path d="M454.0 355.5 H484.0 M454.0 360.7 H484.0" stroke="#1a1a1a" stroke-width="1"/>
<line x1="483.5" y1="355.0" x2="483.5" y2="361.2" stroke="#000" stroke-width="1"/>
<rect x="534.5" y="355.5" width="4.0" height="5.2" fill="#c0c0c0"/>
<path d="M534.0 355.5 H539.0 M534.0 360.7 H539.0" stroke="#1a1a1a" stroke-width="1"/>
<line x1="534.5" y1="355.0" x2="534.5" y2="361.2" stroke="#000" stroke-width="1"/>
<line x1="538.5" y1="355.0" x2="538.5" y2="361.2" stroke="#555" stroke-width="1"/>
<text transform="translate(594,359.8) scale(0.93,1)" font-size="8.4" text-anchor="end" fill="#333">24</text>
<text transform="translate(624.2,359.8) scale(0.93,1)" font-size="8.4" text-anchor="end" fill="#333">0.672</text>
<text transform="translate(656,359.8) scale(0.93,1)" font-size="8.4" text-anchor="end" fill="#333">-0.084</text>
<line x1="446.5" y1="364" x2="446.5" y2="368.8" stroke="#000" stroke-width="1"/>
<line x1="463.5" y1="364" x2="463.5" y2="368.8" stroke="#000" stroke-width="1"/>
<line x1="529.5" y1="364" x2="529.5" y2="368.8" stroke="#000" stroke-width="1"/>
<line x1="546.5" y1="364" x2="546.5" y2="368.8" stroke="#000" stroke-width="1"/>
<text transform="translate(594,368.4) scale(0.93,1)" font-size="8.4" text-anchor="end" fill="#333">25</text>
<text transform="translate(624.2,368.4) scale(0.93,1)" font-size="8.4" text-anchor="end" fill="#333">0.001</text>
<text transform="translate(656,368.4) scale(0.93,1)" font-size="8.4" text-anchor="end" fill="#333">0.006</text>
<line x1="446.5" y1="373" x2="446.5" y2="377.8" stroke="#000" stroke-width="1"/>
<line x1="463.5" y1="373" x2="463.5" y2="377.8" stroke="#000" stroke-width="1"/>
<line x1="529.5" y1="373" x2="529.5" y2="377.8" stroke="#000" stroke-width="1"/>
<line x1="546.5" y1="373" x2="546.5" y2="377.8" stroke="#000" stroke-width="1"/>
<rect x="448.5" y="372.5" width="6.0" height="5.2" fill="#c0c0c0"/>
<path d="M448.0 372.5 H455.0 M448.0 377.7 H455.0" stroke="#1a1a1a" stroke-width="1"/>
<line x1="448.5" y1="372.0" x2="448.5" y2="378.2" stroke="#000" stroke-width="1"/>
<rect x="533.5" y="372.5" width="5.0" height="5.2" fill="#c0c0c0"/>
<path d="M533.0 372.5 H539.0 M533.0 377.7 H539.0" stroke="#1a1a1a" stroke-width="1"/>
<line x1="533.5" y1="372.0" x2="533.5" y2="378.2" stroke="#000" stroke-width="1"/>
<line x1="538.5" y1="372.0" x2="538.5" y2="378.2" stroke="#555" stroke-width="1"/>
<text transform="translate(594,377.1) scale(0.93,1)" font-size="8.4" text-anchor="end" fill="#333">26</text>
<text transform="translate(624.2,377.1) scale(0.93,1)" font-size="8.4" text-anchor="end" fill="#333">-0.147</text>
<text transform="translate(656,377.1) scale(0.93,1)" font-size="8.4" text-anchor="end" fill="#333">-0.112</text>
<line x1="446.5" y1="382" x2="446.5" y2="386.8" stroke="#000" stroke-width="1"/>
<line x1="463.5" y1="382" x2="463.5" y2="386.8" stroke="#000" stroke-width="1"/>
<line x1="529.5" y1="382" x2="529.5" y2="386.8" stroke="#000" stroke-width="1"/>
<line x1="546.5" y1="382" x2="546.5" y2="386.8" stroke="#000" stroke-width="1"/>
<rect x="452.5" y="381.5" width="2.0" height="5.2" fill="#c0c0c0"/>
<path d="M452.0 381.5 H455.0 M452.0 386.7 H455.0" stroke="#1a1a1a" stroke-width="1"/>
<line x1="452.5" y1="381.0" x2="452.5" y2="387.2" stroke="#000" stroke-width="1"/>
<text transform="translate(594,385.7) scale(0.93,1)" font-size="8.4" text-anchor="end" fill="#333">27</text>
<text transform="translate(624.2,385.7) scale(0.93,1)" font-size="8.4" text-anchor="end" fill="#333">-0.050</text>
<text transform="translate(656,385.7) scale(0.93,1)" font-size="8.4" text-anchor="end" fill="#333">-0.004</text>
<line x1="446.5" y1="390" x2="446.5" y2="394.8" stroke="#000" stroke-width="1"/>
<line x1="463.5" y1="390" x2="463.5" y2="394.8" stroke="#000" stroke-width="1"/>
<line x1="529.5" y1="390" x2="529.5" y2="394.8" stroke="#000" stroke-width="1"/>
<line x1="546.5" y1="390" x2="546.5" y2="394.8" stroke="#000" stroke-width="1"/>
<rect x="454.5" y="390.5" width="1.0" height="5.2" fill="#c0c0c0"/>
<path d="M454.0 390.5 H456.0 M454.0 395.7 H456.0" stroke="#1a1a1a" stroke-width="1"/>
<line x1="455.5" y1="390.0" x2="455.5" y2="396.2" stroke="#000" stroke-width="1"/>
<rect x="537.5" y="390.5" width="1.0" height="5.2" fill="#c0c0c0"/>
<path d="M537.0 390.5 H539.0 M537.0 395.7 H539.0" stroke="#1a1a1a" stroke-width="1"/>
<line x1="537.5" y1="390.0" x2="537.5" y2="396.2" stroke="#000" stroke-width="1"/>
<line x1="538.5" y1="390.0" x2="538.5" y2="396.2" stroke="#555" stroke-width="1"/>
<text transform="translate(594,394.4) scale(0.93,1)" font-size="8.4" text-anchor="end" fill="#333">28</text>
<text transform="translate(624.2,394.4) scale(0.93,1)" font-size="8.4" text-anchor="end" fill="#333">0.031</text>
<text transform="translate(656,394.4) scale(0.93,1)" font-size="8.4" text-anchor="end" fill="#333">-0.024</text>
<line x1="446.5" y1="399" x2="446.5" y2="403.8" stroke="#000" stroke-width="1"/>
<line x1="463.5" y1="399" x2="463.5" y2="403.8" stroke="#000" stroke-width="1"/>
<line x1="529.5" y1="399" x2="529.5" y2="403.8" stroke="#000" stroke-width="1"/>
<line x1="546.5" y1="399" x2="546.5" y2="403.8" stroke="#000" stroke-width="1"/>
<rect x="537.5" y="398.5" width="1.0" height="5.2" fill="#c0c0c0"/>
<path d="M537.0 398.5 H539.0 M537.0 403.7 H539.0" stroke="#1a1a1a" stroke-width="1"/>
<line x1="537.5" y1="398.0" x2="537.5" y2="404.2" stroke="#000" stroke-width="1"/>
<line x1="538.5" y1="398.0" x2="538.5" y2="404.2" stroke="#555" stroke-width="1"/>
<text transform="translate(594,403.0) scale(0.93,1)" font-size="8.4" text-anchor="end" fill="#333">29</text>
<text transform="translate(624.2,403.0) scale(0.93,1)" font-size="8.4" text-anchor="end" fill="#333">0.000</text>
<text transform="translate(656,403.0) scale(0.93,1)" font-size="8.4" text-anchor="end" fill="#333">-0.018</text>
<line x1="446.5" y1="408" x2="446.5" y2="412.8" stroke="#000" stroke-width="1"/>
<line x1="463.5" y1="408" x2="463.5" y2="412.8" stroke="#000" stroke-width="1"/>
<line x1="529.5" y1="408" x2="529.5" y2="412.8" stroke="#000" stroke-width="1"/>
<line x1="546.5" y1="408" x2="546.5" y2="412.8" stroke="#000" stroke-width="1"/>
<rect x="451.5" y="407.5" width="3.0" height="5.2" fill="#c0c0c0"/>
<path d="M451.0 407.5 H455.0 M451.0 412.7 H455.0" stroke="#1a1a1a" stroke-width="1"/>
<line x1="451.5" y1="407.0" x2="451.5" y2="413.2" stroke="#000" stroke-width="1"/>
<rect x="537.5" y="407.5" width="1.0" height="5.2" fill="#c0c0c0"/>
<path d="M537.0 407.5 H539.0 M537.0 412.7 H539.0" stroke="#1a1a1a" stroke-width="1"/>
<line x1="537.5" y1="407.0" x2="537.5" y2="413.2" stroke="#000" stroke-width="1"/>
<line x1="538.5" y1="407.0" x2="538.5" y2="413.2" stroke="#555" stroke-width="1"/>
<text transform="translate(594,411.7) scale(0.93,1)" font-size="8.4" text-anchor="end" fill="#333">30</text>
<text transform="translate(624.2,411.7) scale(0.93,1)" font-size="8.4" text-anchor="end" fill="#333">-0.063</text>
<text transform="translate(656,411.7) scale(0.93,1)" font-size="8.4" text-anchor="end" fill="#333">-0.018</text>
<line x1="446.5" y1="416" x2="446.5" y2="420.8" stroke="#000" stroke-width="1"/>
<line x1="463.5" y1="416" x2="463.5" y2="420.8" stroke="#000" stroke-width="1"/>
<line x1="529.5" y1="416" x2="529.5" y2="420.8" stroke="#000" stroke-width="1"/>
<line x1="546.5" y1="416" x2="546.5" y2="420.8" stroke="#000" stroke-width="1"/>
<rect x="453.5" y="416.5" width="1.0" height="5.2" fill="#c0c0c0"/>
<path d="M453.0 416.5 H455.0 M453.0 421.7 H455.0" stroke="#1a1a1a" stroke-width="1"/>
<line x1="453.5" y1="416.0" x2="453.5" y2="422.2" stroke="#000" stroke-width="1"/>
<text transform="translate(594,420.3) scale(0.93,1)" font-size="8.4" text-anchor="end" fill="#333">31</text>
<text transform="translate(624.2,420.3) scale(0.93,1)" font-size="8.4" text-anchor="end" fill="#333">-0.014</text>
<text transform="translate(656,420.3) scale(0.93,1)" font-size="8.4" text-anchor="end" fill="#333">0.004</text>
<line x1="446.5" y1="425" x2="446.5" y2="429.8" stroke="#000" stroke-width="1"/>
<line x1="463.5" y1="425" x2="463.5" y2="429.8" stroke="#000" stroke-width="1"/>
<line x1="529.5" y1="425" x2="529.5" y2="429.8" stroke="#000" stroke-width="1"/>
<line x1="546.5" y1="425" x2="546.5" y2="429.8" stroke="#000" stroke-width="1"/>
<rect x="454.5" y="424.5" width="1.0" height="5.2" fill="#c0c0c0"/>
<path d="M454.0 424.5 H456.0 M454.0 429.7 H456.0" stroke="#1a1a1a" stroke-width="1"/>
<line x1="455.5" y1="424.0" x2="455.5" y2="430.2" stroke="#000" stroke-width="1"/>
<rect x="538.5" y="424.5" width="3.0" height="5.2" fill="#c0c0c0"/>
<path d="M538.0 424.5 H542.0 M538.0 429.7 H542.0" stroke="#1a1a1a" stroke-width="1"/>
<line x1="541.5" y1="424.0" x2="541.5" y2="430.2" stroke="#000" stroke-width="1"/>
<line x1="538.5" y1="424.0" x2="538.5" y2="430.2" stroke="#555" stroke-width="1"/>
<text transform="translate(594,429.0) scale(0.93,1)" font-size="8.4" text-anchor="end" fill="#333">32</text>
<text transform="translate(624.2,429.0) scale(0.93,1)" font-size="8.4" text-anchor="end" fill="#333">0.011</text>
<text transform="translate(656,429.0) scale(0.93,1)" font-size="8.4" text-anchor="end" fill="#333">0.071</text>
<line x1="446.5" y1="434" x2="446.5" y2="438.8" stroke="#000" stroke-width="1"/>
<line x1="463.5" y1="434" x2="463.5" y2="438.8" stroke="#000" stroke-width="1"/>
<line x1="529.5" y1="434" x2="529.5" y2="438.8" stroke="#000" stroke-width="1"/>
<line x1="546.5" y1="434" x2="546.5" y2="438.8" stroke="#000" stroke-width="1"/>
<rect x="451.5" y="433.5" width="3.0" height="5.2" fill="#c0c0c0"/>
<path d="M451.0 433.5 H455.0 M451.0 438.7 H455.0" stroke="#1a1a1a" stroke-width="1"/>
<line x1="451.5" y1="433.0" x2="451.5" y2="439.2" stroke="#000" stroke-width="1"/>
<rect x="538.5" y="433.5" width="3.0" height="5.2" fill="#c0c0c0"/>
<path d="M538.0 433.5 H542.0 M538.0 438.7 H542.0" stroke="#1a1a1a" stroke-width="1"/>
<line x1="541.5" y1="433.0" x2="541.5" y2="439.2" stroke="#000" stroke-width="1"/>
<line x1="538.5" y1="433.0" x2="538.5" y2="439.2" stroke="#555" stroke-width="1"/>
<text transform="translate(594,437.6) scale(0.93,1)" font-size="8.4" text-anchor="end" fill="#333">33</text>
<text transform="translate(624.2,437.6) scale(0.93,1)" font-size="8.4" text-anchor="end" fill="#333">-0.063</text>
<text transform="translate(656,437.6) scale(0.93,1)" font-size="8.4" text-anchor="end" fill="#333">0.059</text>
<line x1="446.5" y1="443" x2="446.5" y2="447.8" stroke="#000" stroke-width="1"/>
<line x1="463.5" y1="443" x2="463.5" y2="447.8" stroke="#000" stroke-width="1"/>
<line x1="529.5" y1="443" x2="529.5" y2="447.8" stroke="#000" stroke-width="1"/>
<line x1="546.5" y1="443" x2="546.5" y2="447.8" stroke="#000" stroke-width="1"/>
<rect x="445.5" y="442.5" width="9.0" height="5.2" fill="#c0c0c0"/>
<path d="M445.0 442.5 H455.0 M445.0 447.7 H455.0" stroke="#1a1a1a" stroke-width="1"/>
<line x1="445.5" y1="442.0" x2="445.5" y2="448.2" stroke="#000" stroke-width="1"/>
<rect x="534.5" y="442.5" width="4.0" height="5.2" fill="#c0c0c0"/>
<path d="M534.0 442.5 H539.0 M534.0 447.7 H539.0" stroke="#1a1a1a" stroke-width="1"/>
<line x1="534.5" y1="442.0" x2="534.5" y2="448.2" stroke="#000" stroke-width="1"/>
<line x1="538.5" y1="442.0" x2="538.5" y2="448.2" stroke="#555" stroke-width="1"/>
<text transform="translate(594,446.2) scale(0.93,1)" font-size="8.4" text-anchor="end" fill="#333">34</text>
<text transform="translate(624.2,446.2) scale(0.93,1)" font-size="8.4" text-anchor="end" fill="#333">-0.202</text>
<text transform="translate(656,446.2) scale(0.93,1)" font-size="8.4" text-anchor="end" fill="#333">-0.096</text>
<line x1="446.5" y1="451" x2="446.5" y2="455.8" stroke="#000" stroke-width="1"/>
<line x1="463.5" y1="451" x2="463.5" y2="455.8" stroke="#000" stroke-width="1"/>
<line x1="529.5" y1="451" x2="529.5" y2="455.8" stroke="#000" stroke-width="1"/>
<line x1="546.5" y1="451" x2="546.5" y2="455.8" stroke="#000" stroke-width="1"/>
<rect x="453.5" y="451.5" width="1.0" height="5.2" fill="#c0c0c0"/>
<path d="M453.0 451.5 H455.0 M453.0 456.7 H455.0" stroke="#1a1a1a" stroke-width="1"/>
<line x1="453.5" y1="451.0" x2="453.5" y2="457.2" stroke="#000" stroke-width="1"/>
<rect x="537.5" y="451.5" width="1.0" height="5.2" fill="#c0c0c0"/>
<path d="M537.0 451.5 H539.0 M537.0 456.7 H539.0" stroke="#1a1a1a" stroke-width="1"/>
<line x1="537.5" y1="451.0" x2="537.5" y2="457.2" stroke="#000" stroke-width="1"/>
<line x1="538.5" y1="451.0" x2="538.5" y2="457.2" stroke="#555" stroke-width="1"/>
<text transform="translate(594,454.9) scale(0.93,1)" font-size="8.4" text-anchor="end" fill="#333">35</text>
<text transform="translate(624.2,454.9) scale(0.93,1)" font-size="8.4" text-anchor="end" fill="#333">-0.009</text>
<text transform="translate(656,454.9) scale(0.93,1)" font-size="8.4" text-anchor="end" fill="#333">-0.011</text>
<line x1="446.5" y1="460" x2="446.5" y2="464.8" stroke="#000" stroke-width="1"/>
<line x1="463.5" y1="460" x2="463.5" y2="464.8" stroke="#000" stroke-width="1"/>
<line x1="529.5" y1="460" x2="529.5" y2="464.8" stroke="#000" stroke-width="1"/>
<line x1="546.5" y1="460" x2="546.5" y2="464.8" stroke="#000" stroke-width="1"/>
<rect x="454.5" y="459.5" width="23.0" height="5.2" fill="#c0c0c0"/>
<path d="M454.0 459.5 H478.0 M454.0 464.7 H478.0" stroke="#1a1a1a" stroke-width="1"/>
<line x1="477.5" y1="459.0" x2="477.5" y2="465.2" stroke="#000" stroke-width="1"/>
<rect x="533.5" y="459.5" width="5.0" height="5.2" fill="#c0c0c0"/>
<path d="M533.0 459.5 H539.0 M533.0 464.7 H539.0" stroke="#1a1a1a" stroke-width="1"/>
<line x1="533.5" y1="459.0" x2="533.5" y2="465.2" stroke="#000" stroke-width="1"/>
<line x1="538.5" y1="459.0" x2="538.5" y2="465.2" stroke="#555" stroke-width="1"/>
<text transform="translate(594,463.6) scale(0.93,1)" font-size="8.4" text-anchor="end" fill="#333">36</text>
<text transform="translate(624.2,463.6) scale(0.93,1)" font-size="8.4" text-anchor="end" fill="#333">0.536</text>
<text transform="translate(656,463.6) scale(0.93,1)" font-size="8.4" text-anchor="end" fill="#333">-0.119</text>
<text x="219.6" y="506.5" font-size="11" text-anchor="start" fill="#000" textLength="280" lengthAdjust="spacingAndGlyphs">González-Rivera: Forecasting for Economics and Business,</text>
<text x="258.4" y="520.8" font-size="11" text-anchor="start" fill="#000" textLength="202.5" lengthAdjust="spacingAndGlyphs">Copyright © 2013 Pearson Education, Inc.</text>
<path d="M663.3 501.7 L665.6 499.3 V508.8" fill="none" stroke="#000" stroke-width="1.15"/>
<path d="M675.9 502 C675.9 500.2 674.7 499.2 673 499.2 C671.3 499.2 670.1 500.3 670.1 501.9 C670.1 503.6 671.3 504.7 673 504.7 C674.7 504.7 675.9 503.6 675.9 502 V506 C675.9 507.7 674.8 508.7 673.1 508.7 C671.8 508.7 670.9 508.1 670.4 507.2" fill="none" stroke="#000" stroke-width="1.15"/>
</svg>
</body></html>
